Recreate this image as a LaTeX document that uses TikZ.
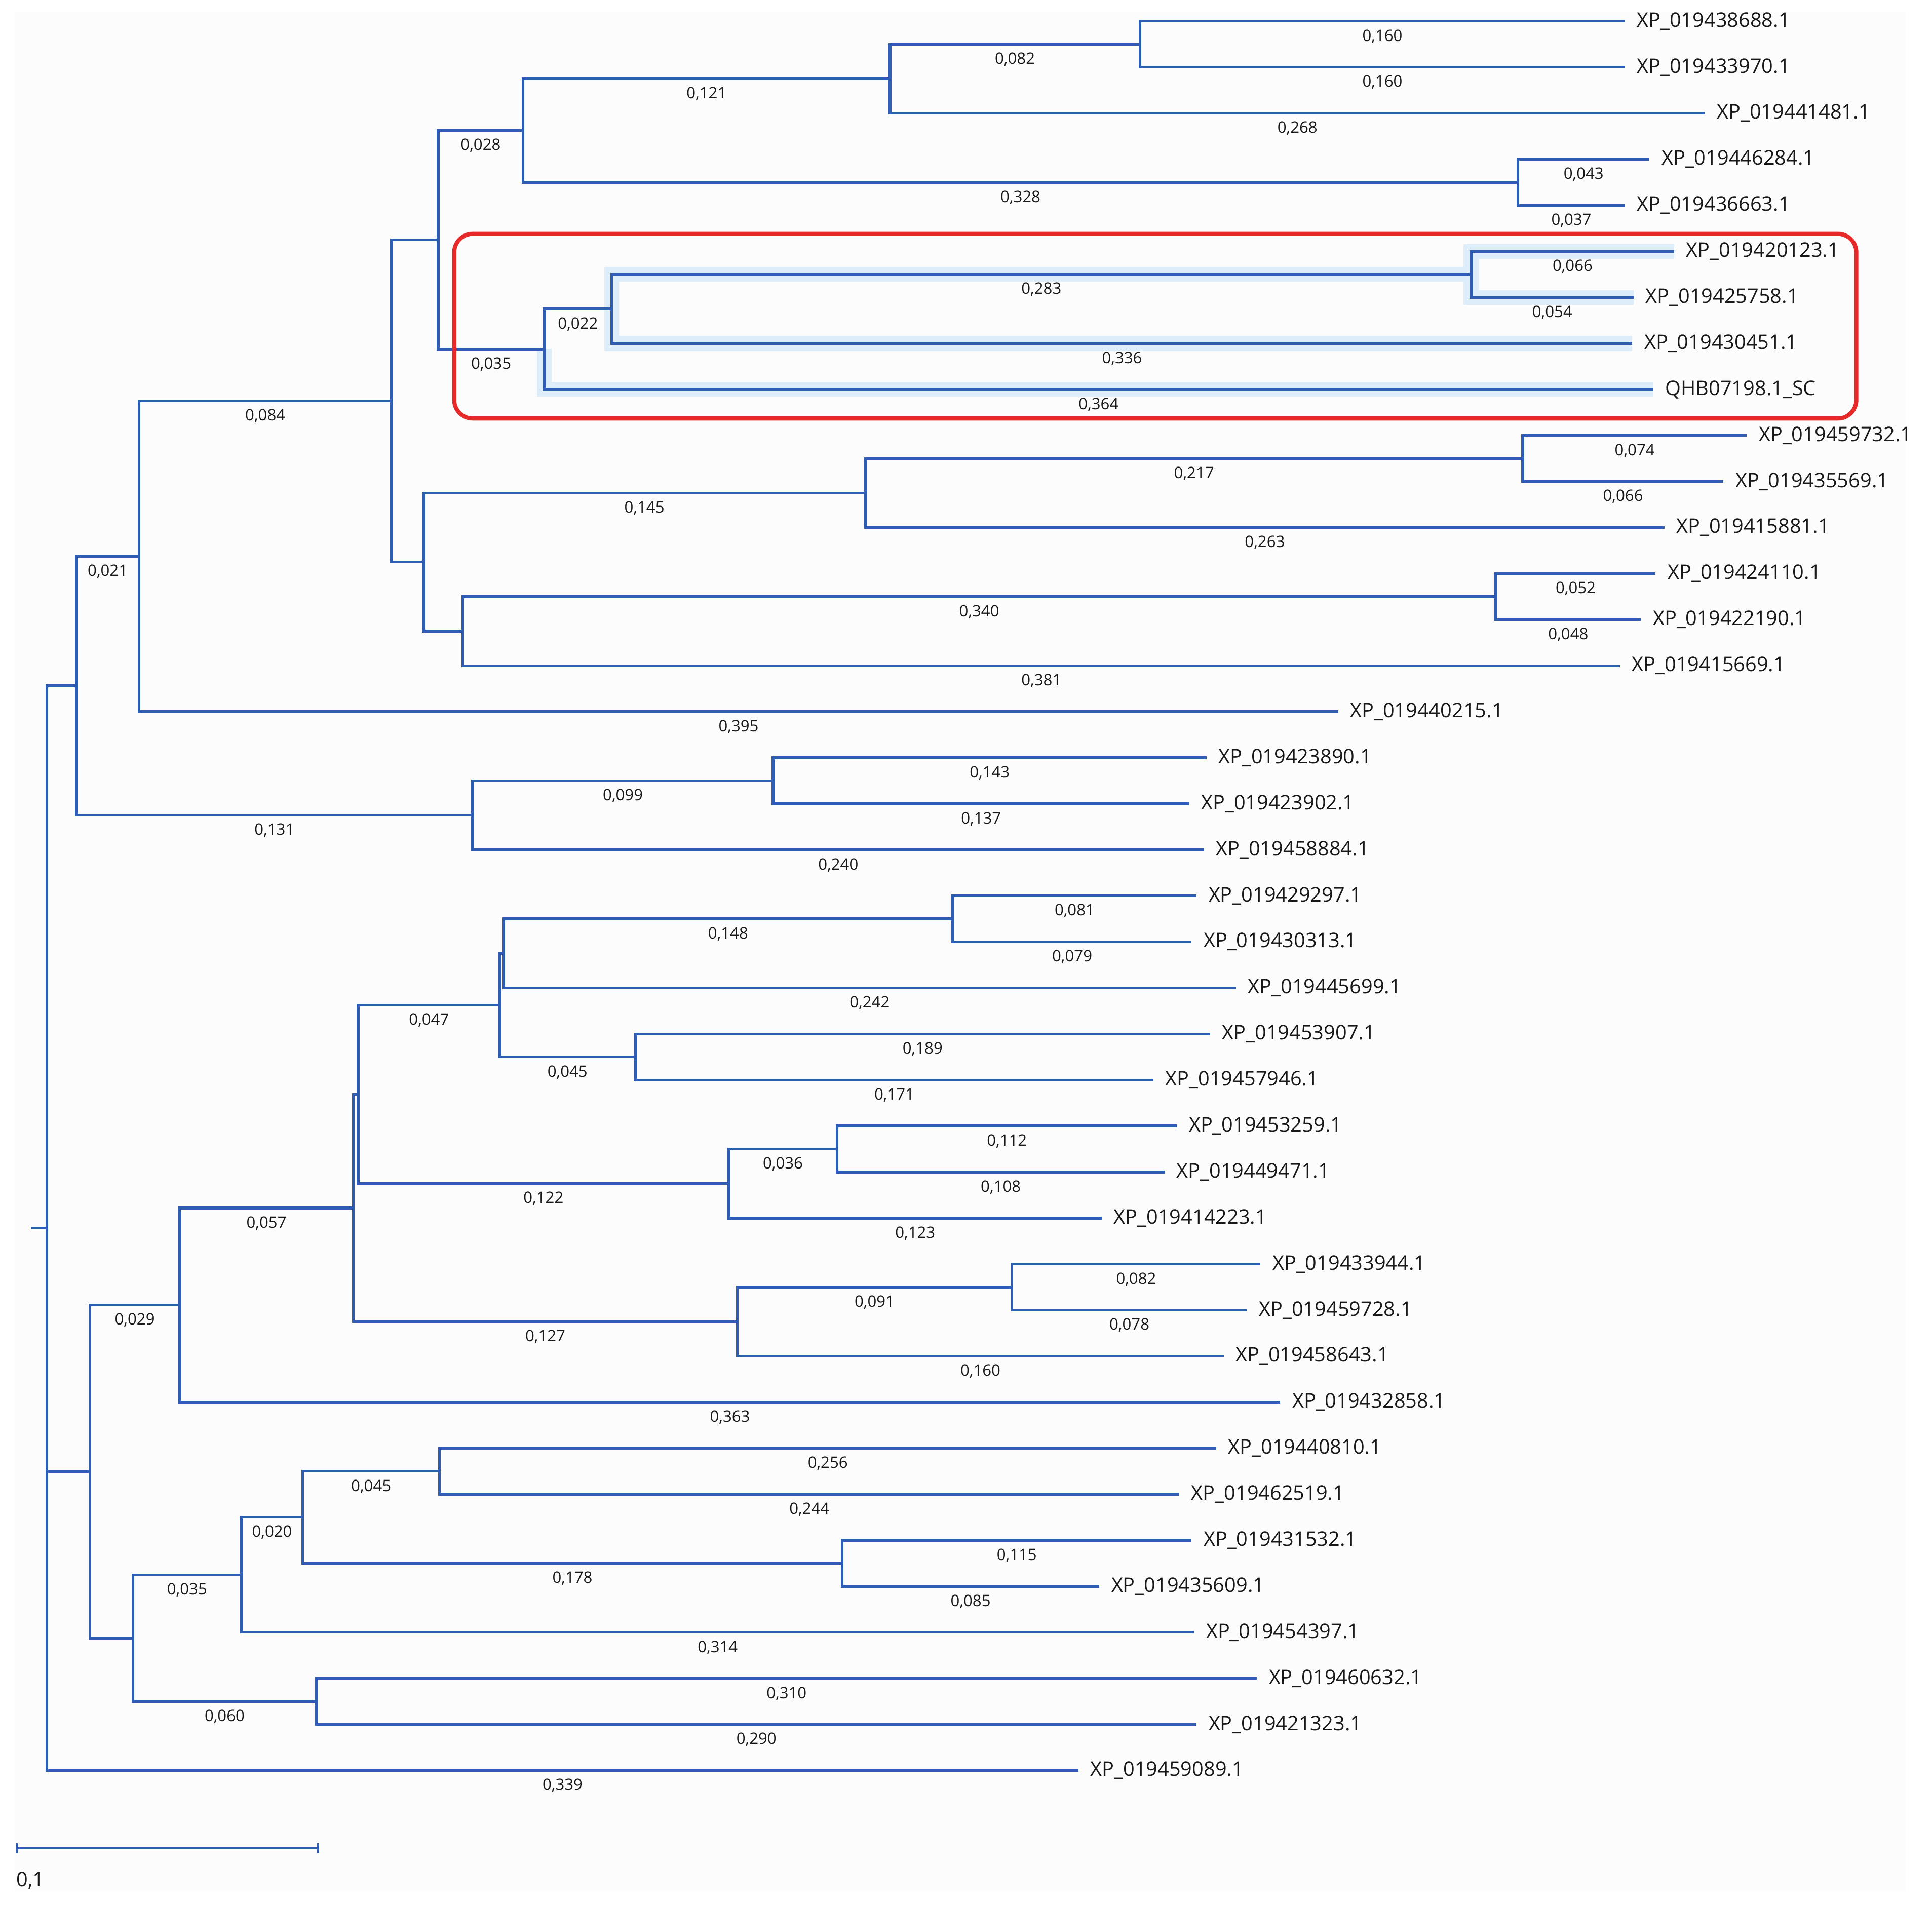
\documentclass[tikz,border=0pt]{standalone}
\usepackage{fontspec}
\setmainfont{Open Sans}
\usetikzlibrary{arrows.meta}
\definecolor{treeblue}{RGB}{47,93,180}
\definecolor{cladered}{RGB}{230,42,42}
\definecolor{glowblue}{RGB}{221,238,250}
\definecolor{paper}{RGB}{252,252,252}
\definecolor{ink}{RGB}{25,25,25}
\tikzstyle{branch} = [line width=1.25pt, color=treeblue]
\tikzstyle{glow} = [line width=0.24cm, color=glowblue]
\tikzstyle{taxon} = [anchor=mid west, inner sep=0pt, xshift=0.19cm, text=ink, font=\fontsize{9.3}{11}\selectfont]
\tikzstyle{blen} = [pos=0.75, inner sep=0pt, text height=5.1pt, text depth=0pt, yshift=-0.234cm, text=ink, font=\fontsize{7.3}{8.6}\selectfont]
\tikzstyle{scalelabel} = [anchor=mid west, inner sep=0pt, text=ink, font=\fontsize{9.3}{11}\selectfont]

\begin{document}
\begin{tikzpicture}[x=0.02cm, y=-0.02cm]
% Canvas
\useasboundingbox (0,0) rectangle (1569.5,1549.8);
\fill[white] (0,0) rectangle (1569.5,1549.8);
\fill[paper] (12,10) rectangle (1548,1537);

% Leaf tips
\coordinate (l1) at (1320,17.2);
\coordinate (l2) at (1320,54.6);
\coordinate (l3) at (1385,92.0);
\coordinate (l4) at (1340,129.4);
\coordinate (l5) at (1320,166.8);
\coordinate (l6) at (1360,204.2);
\coordinate (l7) at (1327,241.6);
\coordinate (l8) at (1326,279.0);
\coordinate (l9) at (1343,316.4);
\coordinate (l10) at (1419,353.8);
\coordinate (l11) at (1400,391.2);
\coordinate (l12) at (1352,428.6);
\coordinate (l13) at (1345,466.0);
\coordinate (l14) at (1333,503.4);
\coordinate (l15) at (1316,540.8);
\coordinate (l16) at (1087,578.2);
\coordinate (l17) at (980,615.6);
\coordinate (l18) at (966,653.0);
\coordinate (l19) at (978,690.4);
\coordinate (l20) at (972,727.8);
\coordinate (l21) at (968,765.2);
\coordinate (l22) at (1004,802.6);
\coordinate (l23) at (983,840.0);
\coordinate (l24) at (937,877.4);
\coordinate (l25) at (956,914.8);
\coordinate (l26) at (946,952.2);
\coordinate (l27) at (895,989.6);
\coordinate (l28) at (1024,1027.0);
\coordinate (l29) at (1013,1064.4);
\coordinate (l30) at (994,1101.8);
\coordinate (l31) at (1040,1139.2);
\coordinate (l32) at (988,1176.6);
\coordinate (l33) at (958,1214.0);
\coordinate (l34) at (968,1251.4);
\coordinate (l35) at (893,1288.8);
\coordinate (l36) at (970,1326.2);
\coordinate (l37) at (1021,1363.6);
\coordinate (l38) at (972,1401.0);
\coordinate (l39) at (876,1438.4);

% Inner nodes
\coordinate (root0) at (25,997.8);
\coordinate (root) at (38,997.8);
\coordinate (A) at (62,557.2);
\coordinate (B) at (113,452.0);
\coordinate (C) at (318,325.75);
\coordinate (D) at (356,194.85);
\coordinate (F) at (425,106.0);
\coordinate (H) at (723,63.95);
\coordinate (J) at (926,35.9);
\coordinate (I) at (1233,148.1);
\coordinate (G) at (442,283.7);
\coordinate (K) at (497,250.95);
\coordinate (L) at (1195,222.9);
\coordinate (E) at (344,456.65);
\coordinate (M) at (703,400.55);
\coordinate (O) at (1237,372.5);
\coordinate (N) at (376,512.75);
\coordinate (P) at (1215,484.7);
\coordinate (Q) at (384,662.35);
\coordinate (R) at (628,634.3);
\coordinate (S) at (73,1195.6);
\coordinate (T) at (146,1060.3);
\coordinate (V) at (287,981.4);
\coordinate (W) at (291,889.1);
\coordinate (X) at (406,816.6);
\coordinate (AA) at (409,774.55);
\coordinate (AC) at (774,746.5);
\coordinate (AB) at (516,858.7);
\coordinate (Y) at (592,961.55);
\coordinate (AD) at (680,933.5);
\coordinate (Z) at (599,1073.75);
\coordinate (AE) at (822,1045.7);
\coordinate (U) at (108,1330.9);
\coordinate (AF) at (196,1279.45);
\coordinate (AH) at (246,1232.7);
\coordinate (AI) at (357,1195.3);
\coordinate (AJ) at (684,1270.1);
\coordinate (AG) at (257,1382.3);

% Highlighted clade
\draw[glow] (G) |- (l9);
\draw[glow] (K) |- (L) (K) |- (l8) (L) |- (l6) (L) |- (l7);

% Branches, upper part
\draw[branch] (root0) -- (root);
\draw[branch] (root) |- (A);
\draw[branch] (root) |- (S);
\draw[branch] (root) |- (l39) node[blen] {0,339};
\draw[branch] (A) |- (B) node[blen] {0,021};
\draw[branch] (A) |- (Q) node[blen] {0,131};
\draw[branch] (B) |- (C) node[blen] {0,084};
\draw[branch] (B) |- (l16) node[blen] {0,395};
\draw[branch] (C) |- (D);
\draw[branch] (C) |- (E);
\draw[branch] (D) |- (F) node[blen] {0,028};
\draw[branch] (D) |- (G) node[blen] {0,035};
\draw[branch] (F) |- (H) node[blen] {0,121};
\draw[branch] (F) |- (I) node[blen] {0,328};
\draw[branch] (H) |- (J) node[blen] {0,082};
\draw[branch] (H) |- (l3) node[blen] {0,268};
\draw[branch] (J) |- (l1) node[blen] {0,160};
\draw[branch] (J) |- (l2) node[blen] {0,160};
\draw[branch] (I) |- (l4) node[blen] {0,043};
\draw[branch] (I) |- (l5) node[blen] {0,037};
\draw[branch] (G) |- (K) node[blen] {0,022};
\draw[branch] (G) |- (l9) node[blen] {0,364};
\draw[branch] (K) |- (L) node[blen] {0,283};
\draw[branch] (K) |- (l8) node[blen] {0,336};
\draw[branch] (L) |- (l6) node[blen] {0,066};
\draw[branch] (L) |- (l7) node[blen] {0,054};
\draw[branch] (E) |- (M) node[blen] {0,145};
\draw[branch] (E) |- (N);
\draw[branch] (M) |- (O) node[blen] {0,217};
\draw[branch] (M) |- (l12) node[blen] {0,263};
\draw[branch] (O) |- (l10) node[blen] {0,074};
\draw[branch] (O) |- (l11) node[blen] {0,066};
\draw[branch] (N) |- (P) node[blen] {0,340};
\draw[branch] (N) |- (l15) node[blen] {0,381};
\draw[branch] (P) |- (l13) node[blen] {0,052};
\draw[branch] (P) |- (l14) node[blen] {0,048};
\draw[branch] (Q) |- (R) node[blen] {0,099};
\draw[branch] (Q) |- (l19) node[blen] {0,240};
\draw[branch] (R) |- (l17) node[blen] {0,143};
\draw[branch] (R) |- (l18) node[blen] {0,137};

% Branches, lower part
\draw[branch] (S) |- (T) node[blen] {0,029};
\draw[branch] (S) |- (U);
\draw[branch] (T) |- (V) node[blen] {0,057};
\draw[branch] (T) |- (l31) node[blen] {0,363};
\draw[branch] (V) |- (W);
\draw[branch] (V) |- (Z) node[blen] {0,127};
\draw[branch] (W) |- (X) node[blen] {0,047};
\draw[branch] (W) |- (Y) node[blen] {0,122};
\draw[branch] (X) |- (AA);
\draw[branch] (X) |- (AB) node[blen] {0,045};
\draw[branch] (AA) |- (AC) node[blen] {0,148};
\draw[branch] (AA) |- (l22) node[blen] {0,242};
\draw[branch] (AC) |- (l20) node[blen] {0,081};
\draw[branch] (AC) |- (l21) node[blen] {0,079};
\draw[branch] (AB) |- (l23) node[blen] {0,189};
\draw[branch] (AB) |- (l24) node[blen] {0,171};
\draw[branch] (Y) |- (AD) node[blen] {0,036};
\draw[branch] (Y) |- (l27) node[blen] {0,123};
\draw[branch] (AD) |- (l25) node[blen] {0,112};
\draw[branch] (AD) |- (l26) node[blen] {0,108};
\draw[branch] (Z) |- (AE) node[blen] {0,091};
\draw[branch] (Z) |- (l30) node[blen] {0,160};
\draw[branch] (AE) |- (l28) node[blen] {0,082};
\draw[branch] (AE) |- (l29) node[blen] {0,078};
\draw[branch] (U) |- (AF) node[blen] {0,035};
\draw[branch] (U) |- (AG) node[blen] {0,060};
\draw[branch] (AF) |- (AH) node[blen] {0,020};
\draw[branch] (AF) |- (l36) node[blen] {0,314};
\draw[branch] (AH) |- (AI) node[blen] {0,045};
\draw[branch] (AH) |- (AJ) node[blen] {0,178};
\draw[branch] (AI) |- (l32) node[blen] {0,256};
\draw[branch] (AI) |- (l33) node[blen] {0,244};
\draw[branch] (AJ) |- (l34) node[blen] {0,115};
\draw[branch] (AJ) |- (l35) node[blen] {0,085};
\draw[branch] (AG) |- (l37) node[blen] {0,310};
\draw[branch] (AG) |- (l38) node[blen] {0,290};

% Selected clade
\draw[line width=1.9pt, cladered, rounded corners=0.3cm] (369,190) rectangle (1508,340);

% Leaf names
\node[taxon] (t1) at (l1) {XP\_019438688.1};
\node[taxon] (t2) at (l2) {XP\_019433970.1};
\node[taxon] (t3) at (l3) {XP\_019441481.1};
\node[taxon] (t4) at (l4) {XP\_019446284.1};
\node[taxon] (t5) at (l5) {XP\_019436663.1};
\node[taxon] (t6) at (l6) {XP\_019420123.1};
\node[taxon] (t7) at (l7) {XP\_019425758.1};
\node[taxon] (t8) at (l8) {XP\_019430451.1};
\node[taxon] (t9) at (l9) {QHB07198.1\_SC};
\node[taxon] (t10) at (l10) {XP\_019459732.1};
\node[taxon] (t11) at (l11) {XP\_019435569.1};
\node[taxon] (t12) at (l12) {XP\_019415881.1};
\node[taxon] (t13) at (l13) {XP\_019424110.1};
\node[taxon] (t14) at (l14) {XP\_019422190.1};
\node[taxon] (t15) at (l15) {XP\_019415669.1};
\node[taxon] (t16) at (l16) {XP\_019440215.1};
\node[taxon] (t17) at (l17) {XP\_019423890.1};
\node[taxon] (t18) at (l18) {XP\_019423902.1};
\node[taxon] (t19) at (l19) {XP\_019458884.1};
\node[taxon] (t20) at (l20) {XP\_019429297.1};
\node[taxon] (t21) at (l21) {XP\_019430313.1};
\node[taxon] (t22) at (l22) {XP\_019445699.1};
\node[taxon] (t23) at (l23) {XP\_019453907.1};
\node[taxon] (t24) at (l24) {XP\_019457946.1};
\node[taxon] (t25) at (l25) {XP\_019453259.1};
\node[taxon] (t26) at (l26) {XP\_019449471.1};
\node[taxon] (t27) at (l27) {XP\_019414223.1};
\node[taxon] (t28) at (l28) {XP\_019433944.1};
\node[taxon] (t29) at (l29) {XP\_019459728.1};
\node[taxon] (t30) at (l30) {XP\_019458643.1};
\node[taxon] (t31) at (l31) {XP\_019432858.1};
\node[taxon] (t32) at (l32) {XP\_019440810.1};
\node[taxon] (t33) at (l33) {XP\_019462519.1};
\node[taxon] (t34) at (l34) {XP\_019431532.1};
\node[taxon] (t35) at (l35) {XP\_019435609.1};
\node[taxon] (t36) at (l36) {XP\_019454397.1};
\node[taxon] (t37) at (l37) {XP\_019460632.1};
\node[taxon] (t38) at (l38) {XP\_019421323.1};
\node[taxon] (t39) at (l39) {XP\_019459089.1};

% Scale bar
\coordinate (sb0) at (13,1501.5);
\coordinate (sb1) at (259,1501.5);
\draw[treeblue, line width=0.8pt, {Bar[width=0.16cm]}-{Bar[width=0.16cm]}] (sb0) -- (sb1);
\node[scalelabel] (sbtext) at (13,1528) {0,1};
\end{tikzpicture}
\end{document}
